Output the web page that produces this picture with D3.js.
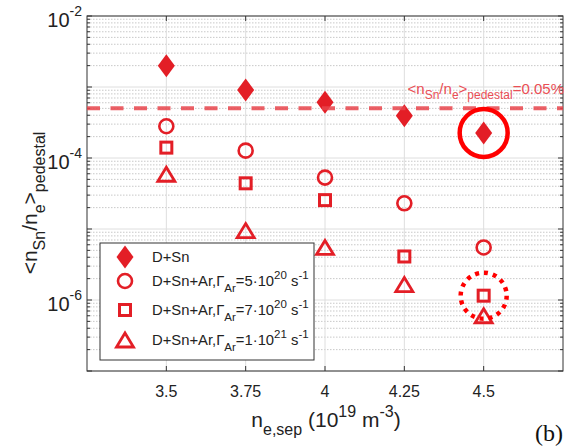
<!DOCTYPE html>
<html>
<head>
<meta charset="utf-8">
<script src="https://cdn.jsdelivr.net/npm/d3@7"></script>
<style>
  body { margin: 0; background: #fff; }
  svg { display: block; font-family: "Liberation Sans", Arial, sans-serif; }
</style>
</head>
<body>
<svg id="chart" width="566" height="447"></svg>
<script>
// data
const nSep = [3.5, 3.75, 4, 4.25, 4.5];
const dSn = [2.0e-3, 9.1e-4, 6.1e-4, 3.95e-4, 2.25e-4];
const arLow = [2.8e-4, 1.27e-4, 5.3e-5, 2.3e-5, 5.5e-6];
const arMid = [1.4e-4, 4.4e-5, 2.55e-5, 4.1e-6, 1.15e-6];
const arHigh = [5.9e-5, 9.5e-6, 5.5e-6, 1.65e-6, 6.0e-7];
const xTicks = ["3.5", "3.75", "4", "4.25", "4.5"];
const yLabelExp = [-2, -4, -6];
const limitValue = 5e-4;

const red = "#e31e26";
const svg = d3.select("#chart");

const pLeft = 87, pRight = 563, pTop = 16, pBottom = 371;
const x = d3.scaleLinear().domain([3.25, 4.75]).range([pLeft, pRight]);
const y = d3.scaleLog().domain([1e-7, 1e-2]).range([pBottom, pTop]);

// grid
const yAll = y.ticks();
const isMajor = v => Math.abs(Math.log10(v) - Math.round(Math.log10(v))) < 1e-6;
const grid = svg.append("g");
grid.selectAll("line.minor")
  .data(yAll.filter(v => !isMajor(v)))
  .enter().append("line")
  .attr("x1", pLeft).attr("x2", pRight)
  .attr("y1", d => y(d)).attr("y2", d => y(d))
  .attr("stroke", "#c8c8c8").attr("stroke-width", 1)
  .attr("stroke-dasharray", "1.5,1.5");
grid.selectAll("line.major")
  .data(yAll.filter(isMajor))
  .enter().append("line")
  .attr("x1", pLeft).attr("x2", pRight)
  .attr("y1", d => y(d)).attr("y2", d => y(d))
  .attr("stroke", "#dedede").attr("stroke-width", 1);
grid.selectAll("line.vx")
  .data(nSep)
  .enter().append("line")
  .attr("x1", d => x(d)).attr("x2", d => x(d))
  .attr("y1", pTop).attr("y2", pBottom)
  .attr("stroke", "#dedede").attr("stroke-width", 1);

// axes box and ticks
const ax = svg.append("g").attr("stroke", "#333").attr("stroke-width", 1);
ax.append("rect").attr("x", pLeft).attr("y", pTop)
  .attr("width", pRight - pLeft).attr("height", pBottom - pTop)
  .attr("fill", "none");
yAll.forEach(v => {
  const len = isMajor(v) ? 5 : 3;
  ax.append("line").attr("x1", pLeft).attr("x2", pLeft + len).attr("y1", y(v)).attr("y2", y(v));
  ax.append("line").attr("x1", pRight).attr("x2", pRight - len).attr("y1", y(v)).attr("y2", y(v));
});
nSep.forEach(v => {
  ax.append("line").attr("x1", x(v)).attr("x2", x(v)).attr("y1", pBottom).attr("y2", pBottom - 5);
  ax.append("line").attr("x1", x(v)).attr("x2", x(v)).attr("y1", pTop).attr("y2", pTop + 5);
});

// tick labels
svg.append("g").selectAll("text")
  .data(nSep)
  .enter().append("text")
  .attr("x", d => x(d)).attr("y", 397)
  .attr("text-anchor", "middle")
  .attr("font-size", 16).attr("fill", "#222")
  .text((d, i) => xTicks[i]);

yLabelExp.forEach(e => {
  const t = svg.append("text")
    .attr("x", 82).attr("y", y(Math.pow(10, e)) + 11)
    .attr("text-anchor", "end").attr("font-size", 20).attr("fill", "#222");
  t.append("tspan").text("10");
  t.append("tspan").attr("dy", -11).attr("font-size", 14).text(String(e));
});

// axis titles
const xt = svg.append("text").attr("x", 326).attr("y", 427)
  .attr("text-anchor", "middle").attr("font-size", 21).attr("fill", "#222");
xt.append("tspan").text("n");
xt.append("tspan").attr("dy", 8).attr("font-size", 16).text("e,sep");
xt.append("tspan").attr("dy", -8).text(" (10");
xt.append("tspan").attr("dy", -10).attr("font-size", 16).text("19");
xt.append("tspan").attr("dy", 10).text(" m");
xt.append("tspan").attr("dy", -10).attr("font-size", 16).text("-3");
xt.append("tspan").attr("dy", 10).text(")");

svg.append("text").attr("x", 535).attr("y", 441)
  .attr("font-family", "'Liberation Serif', 'Times New Roman', serif")
  .attr("font-size", 24).attr("fill", "#111").text("(b)");

const yt = svg.append("text")
  .attr("transform", "translate(37,203) rotate(-90)")
  .attr("text-anchor", "middle").attr("font-size", 21).attr("fill", "#222");
yt.append("tspan").text("<n");
yt.append("tspan").attr("dy", 8).attr("font-size", 16).text("Sn");
yt.append("tspan").attr("dy", -8).text("/n");
yt.append("tspan").attr("dy", 8).attr("font-size", 16).text("e");
yt.append("tspan").attr("dy", -8).text(">");
yt.append("tspan").attr("dy", 8).attr("font-size", 16).text("pedestal");

// marker shapes
function diamondPath(w, h) {
  return `M0,${-h / 2}L${w / 2},0L0,${h / 2}L${-w / 2},0Z`;
}
function trianglePath(w, h) {
  return `M0,${-h / 2}L${w / 2},${h / 2}L${-w / 2},${h / 2}Z`;
}
const markers = {
  diamond: g => g.append("path").attr("d", diamondPath(17, 23)).attr("fill", red),
  circle: g => g.append("circle").attr("r", 7).attr("fill", "none").attr("stroke", red).attr("stroke-width", 2.6),
  square: g => g.append("rect").attr("x", -5.5).attr("y", -5.5).attr("width", 11).attr("height", 11)
    .attr("fill", "none").attr("stroke", red).attr("stroke-width", 3),
  triangle: g => g.append("path").attr("d", trianglePath(17, 14)).attr("fill", "none")
    .attr("stroke", red).attr("stroke-width", 2.8).attr("stroke-linejoin", "miter")
};

const series = [
  { vals: dSn, shape: "diamond" },
  { vals: arLow, shape: "circle" },
  { vals: arMid, shape: "square" },
  { vals: arHigh, shape: "triangle" }
];

const pts = svg.append("g");
series.forEach(s => {
  pts.selectAll(null)
    .data(s.vals)
    .enter().append("g")
    .attr("transform", (d, i) => `translate(${x(nSep[i])},${y(d)})`)
    .each(function () { markers[s.shape](d3.select(this)); });
});

// 0.05% reference line
svg.append("line")
  .attr("x1", pLeft).attr("x2", pRight)
  .attr("y1", y(limitValue)).attr("y2", y(limitValue))
  .attr("stroke", "#e8444b").attr("stroke-opacity", 0.85)
  .attr("stroke-width", 4).attr("stroke-dasharray", "13,10.5");

const ann = svg.append("text").attr("x", 564).attr("y", 94)
  .attr("text-anchor", "end").attr("font-size", 15).attr("fill", "#ea4e55");
ann.append("tspan").text("<n");
ann.append("tspan").attr("dy", 5).attr("font-size", 12).text("Sn");
ann.append("tspan").attr("dy", -5).text("/n");
ann.append("tspan").attr("dy", 5).attr("font-size", 12).text("e");
ann.append("tspan").attr("dy", -5).text(">");
ann.append("tspan").attr("dy", 5).attr("font-size", 12).text("pedestal");
ann.append("tspan").attr("dy", -5).text("=0.05%");

// highlight circles at 4.5
const last = nSep.length - 1;
svg.append("circle")
  .attr("cx", x(nSep[last])).attr("cy", y(dSn[last])).attr("r", 24)
  .attr("fill", "none").attr("stroke", "#ff0000").attr("stroke-width", 4.5);
svg.append("circle")
  .attr("cx", x(nSep[last])).attr("cy", y(arMid[last])).attr("r", 23)
  .attr("fill", "none").attr("stroke", "#ff0000").attr("stroke-width", 4.5)
  .attr("stroke-dasharray", "4,5");

// legend
const lg = svg.append("g");
lg.append("rect").attr("x", 100).attr("y", 243).attr("width", 214).attr("height", 117)
  .attr("fill", "#fff").attr("stroke", "#333").attr("stroke-width", 1);
const legRows = [257, 281, 310, 340];
const legendText = [
  { base: "D+Sn" },
  { base: "D+Sn+Ar,", coef: "5", exp: "20" },
  { base: "D+Sn+Ar,", coef: "7", exp: "20" },
  { base: "D+Sn+Ar,", coef: "1", exp: "21" }
];
series.forEach((s, i) => {
  const g = lg.append("g").attr("transform", `translate(125,${legRows[i]})`);
  markers[s.shape](g);
  const t = lg.append("text").attr("x", 152).attr("y", legRows[i] + 5)
    .attr("font-size", 14.8).attr("fill", "#222");
  const lt = legendText[i];
  t.append("tspan").text(lt.base);
  if (lt.coef) {
    t.append("tspan").text("\u0393");
    t.append("tspan").attr("dy", 6).attr("font-size", 11.5).text("Ar");
    t.append("tspan").attr("dy", -6).text("=" + lt.coef + "\u00b710");
    t.append("tspan").attr("dy", -7).attr("font-size", 11.5).text(lt.exp);
    t.append("tspan").attr("dy", 7).text(" s");
    t.append("tspan").attr("dy", -7).attr("font-size", 11.5).text("-1");
  }
});
</script>
</body>
</html>
